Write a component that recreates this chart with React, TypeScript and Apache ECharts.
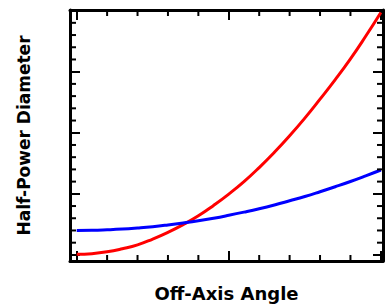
import React, { useEffect, useRef } from "react";
import * as echarts from "echarts";

const angles = [0, 0.5, 1, 1.5, 2, 2.5, 3, 3.5, 4, 4.5, 5, 5.5, 6, 6.5, 7, 7.5, 8, 8.5, 9, 9.5, 10];
const redValues = [0.05, 0.1, 0.25, 0.5, 0.82, 1.3, 1.85, 2.48, 3.2, 4.05, 4.98, 6.0, 7.15, 8.4, 9.75, 11.2, 12.75, 14.35, 16.05, 17.9, 19.85];
const blueValues = [2.0, 2.01, 2.05, 2.11, 2.2, 2.31, 2.45, 2.61, 2.79, 3.0, 3.24, 3.5, 3.78, 4.09, 4.43, 4.78, 5.17, 5.58, 6.01, 6.47, 6.95];

// tick layout
const xTickRange = [0, 10];
const yTickRange = [0, 20];
const xMajorStep = 5;
const yMajorStep = 5;
const xMinorTicks = [1, 2, 3, 4, 6, 7, 8, 9];
const yMinorTicks = [1, 2, 3, 4, 6, 7, 8, 9, 11, 12, 13, 14, 16, 17, 18, 19];

const xTitle = "Off-Axis Angle";
const yTitle = "Half-Power Diameter";

// full frame extent in data units
const X_MIN = -0.22;
const X_MAX = 10.07;
const Y_MIN = -0.5;
const Y_MAX = 20.05;

const W = 387;
const H = 306;
const G_LEFT = 70;
const G_RIGHT = 4;
const G_TOP = 10;
const G_BOTTOM = 45;

export default function App() {
  const ref = useRef<HTMLDivElement>(null);
  useEffect(() => {
    if (!ref.current) return;
    const chart = echarts.init(ref.current, null, { renderer: "svg" });
    const font = "DejaVu Sans";
    const lineStyle = { color: "#000", width: 3 };
    const tickStyle = { color: "#000", width: 2 };
    const MINOR_LEN = 6;

    const gw = W - G_LEFT - G_RIGHT;
    const gh = H - G_TOP - G_BOTTOM;
    const pxX = gw / (X_MAX - X_MIN);
    const pxY = gh / (Y_MAX - Y_MIN);

    const base = { containLabel: false, outerBoundsMode: "none" };
    const frameGrid = { ...base, left: G_LEFT, right: G_RIGHT, top: G_TOP, bottom: G_BOTTOM };
    const xTickGrid = {
      ...base,
      left: G_LEFT + (xTickRange[0] - X_MIN) * pxX,
      right: G_RIGHT + (X_MAX - xTickRange[1]) * pxX,
      top: G_TOP,
      bottom: G_BOTTOM,
    };
    const yTickGrid = {
      ...base,
      left: G_LEFT,
      right: G_RIGHT,
      top: G_TOP + (Y_MAX - yTickRange[1]) * pxY,
      bottom: G_BOTTOM + (yTickRange[0] - Y_MIN) * pxY,
    };

    const tickAxis = (grid: number, pos: string, range: number[], step: number, len: number) => ({
      type: "value",
      gridIndex: grid,
      position: pos,
      min: range[0],
      max: range[1],
      interval: step,
      axisLine: { show: false, onZero: false },
      axisTick: { show: true, inside: true, length: len, lineStyle: tickStyle },
      axisLabel: { show: false },
      splitLine: { show: false },
    });
    const hiddenAxis = (grid: number) => ({ type: "value", gridIndex: grid, show: false, min: 0, max: 1 });
    const frameAxis = (pos: string, min: number, max: number, extra: any = {}) => ({
      type: "value",
      gridIndex: 0,
      position: pos,
      min,
      max,
      axisLine: { show: true, lineStyle, onZero: false },
      axisTick: { show: false },
      axisLabel: { show: false },
      splitLine: { show: false },
      ...extra,
    });

    const tickLine = (x1: number, y1: number, x2: number, y2: number) => ({
      type: "line",
      shape: { x1, y1, x2, y2 },
      style: { stroke: "#000", lineWidth: 2, fill: null },
    });

    chart.setOption({
      animation: false,
      backgroundColor: "#fff",
      grid: [frameGrid, xTickGrid, yTickGrid],
      xAxis: [
        frameAxis("bottom", X_MIN, X_MAX, {
          name: xTitle,
          nameLocation: "middle",
          nameGap: 23,
          nameTextStyle: { fontFamily: font, fontWeight: "bold", fontSize: 18, color: "#000" },
        }),
        frameAxis("top", X_MIN, X_MAX),
        tickAxis(1, "bottom", xTickRange, xMajorStep, 10),
        tickAxis(1, "top", xTickRange, xMajorStep, 10),
        hiddenAxis(2),
      ],
      yAxis: [
        frameAxis("left", Y_MIN, Y_MAX, {
          name: yTitle,
          nameLocation: "middle",
          nameGap: 38,
          nameRotate: 90,
          nameTextStyle: { fontFamily: font, fontWeight: "bold", fontSize: 17, color: "#000" },
        }),
        frameAxis("right", Y_MIN, Y_MAX),
        hiddenAxis(1),
        tickAxis(2, "left", yTickRange, yMajorStep, 10),
        tickAxis(2, "right", yTickRange, yMajorStep, 10),
      ],
      series: [
        {
          type: "custom",
          xAxisIndex: 0,
          yAxisIndex: 0,
          silent: true,
          clip: false,
          z: 4,
          data: xMinorTicks.map((v) => [v, Y_MIN]),
          renderItem: (params: any, api: any) => {
            const v = api.value(0);
            const b = api.coord([v, Y_MIN]);
            const t = api.coord([v, Y_MAX]);
            return {
              type: "group",
              children: [
                tickLine(b[0], b[1], b[0], b[1] - MINOR_LEN),
                tickLine(t[0], t[1], t[0], t[1] + MINOR_LEN),
              ],
            };
          },
        },
        {
          type: "custom",
          xAxisIndex: 0,
          yAxisIndex: 0,
          silent: true,
          clip: false,
          z: 4,
          data: yMinorTicks.map((v) => [X_MIN, v]),
          renderItem: (params: any, api: any) => {
            const v = api.value(1);
            const l = api.coord([X_MIN, v]);
            const r = api.coord([X_MAX, v]);
            return {
              type: "group",
              children: [
                tickLine(l[0], l[1], l[0] + MINOR_LEN, l[1]),
                tickLine(r[0], r[1], r[0] - MINOR_LEN, r[1]),
              ],
            };
          },
        },
        {
          type: "line",
          xAxisIndex: 0,
          yAxisIndex: 0,
          data: angles.map((a, i) => [a, redValues[i]]),
          showSymbol: false,
          smooth: true,
          lineStyle: { color: "#ff0000", width: 3 },
          itemStyle: { color: "#ff0000" },
          z: 3,
        },
        {
          type: "line",
          xAxisIndex: 0,
          yAxisIndex: 0,
          data: angles.map((a, i) => [a, blueValues[i]]),
          showSymbol: false,
          smooth: true,
          lineStyle: { color: "#0000ff", width: 3 },
          itemStyle: { color: "#0000ff" },
          z: 3,
        },
      ],
    });
    return () => chart.dispose();
  }, []);
  return (
    <div
      ref={ref}
      style={{ position: "fixed", left: 0, top: 0, width: W, height: H, background: "#fff" }}
    />
  );
}
